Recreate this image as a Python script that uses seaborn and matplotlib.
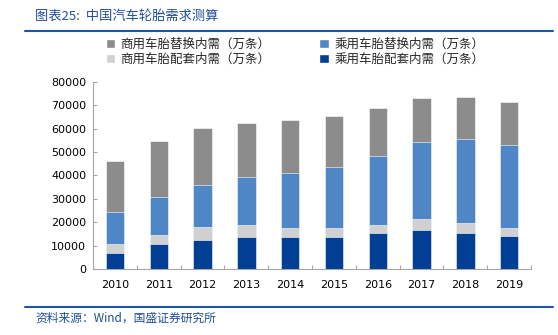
import matplotlib
matplotlib.use("Agg")
import matplotlib.pyplot as plt
import seaborn as sns
import pandas as pd
import numpy as np
from matplotlib.patches import Patch
from matplotlib.lines import Line2D

years = ["2010", "2011", "2012", "2013", "2014", "2015", "2016", "2017", "2018", "2019"]
pc_oe = [7000, 10800, 12400, 13800, 13500, 13800, 15300, 16500, 15400, 14100]      # 乘用车胎配套
cv_oe = [3600, 3700, 5400, 4900, 4100, 3700, 3500, 4700, 4400, 3500]               # 商用车胎配套
pc_rep = [13800, 16100, 18200, 20700, 23600, 26100, 29500, 32900, 35600, 35500]    # 乘用车胎替换
cv_rep = [21900, 24200, 24300, 23100, 22300, 21800, 20600, 19000, 18000, 18100]    # 商用车胎替换

names = ["乘用车胎配套内需（万条）", "商用车胎配套内需（万条）",
         "乘用车胎替换内需（万条）", "商用车胎替换内需（万条）"]
colors = ["#003F94", "#D0D0D0", "#4F86C6", "#8C8C8C"]
series = [pc_oe, cv_oe, pc_rep, cv_rep]

sns.set_theme(style="white")
plt.rcParams['font.family'] = ['Noto Sans CJK SC', 'DejaVu Sans']

fig = plt.figure(figsize=(5.58, 3.35), dpi=100)
ax = fig.add_axes([0.1667, 0.197, 0.785, 0.559])

cum = np.cumsum(np.array(series), axis=0)
df = pd.DataFrame({"year": years})
for i in range(len(series) - 1, -1, -1):
    df["v"] = cum[i]
    sns.barplot(data=df, x="year", y="v", color=colors[i], width=0.42,
                saturation=1, edgecolor="white", linewidth=0.4, ax=ax, zorder=2)

ax.set_ylim(0, 80000)
ax.set_xlim(-0.5, len(years) - 0.5)
ax.set_yticks(range(0, 80001, 10000))
ax.set_xlabel("")
ax.set_ylabel("")
for s in ["top", "right"]:
    ax.spines[s].set_visible(False)
for s in ["left", "bottom"]:
    ax.spines[s].set_color("#A6A6A6")
    ax.spines[s].set_linewidth(0.8)
ax.tick_params(axis="y", direction="in", length=3, color="#A6A6A6", width=0.8,
               labelsize=8, pad=5, left=True)
ax.tick_params(axis="x", length=0, labelsize=8, pad=8)
for lab in ax.get_xticklabels() + ax.get_yticklabels():
    lab.set_family("DejaVu Sans")
    lab.set_color("#000000")
# category boundary ticks on x axis
ax.set_xticks(np.arange(0.5, len(years) - 0.5 + 1, 1), minor=True)
ax.tick_params(axis="x", which="minor", direction="in", length=3, color="#A6A6A6",
               width=0.8, bottom=True)

handles = [Patch(facecolor=colors[3]), Patch(facecolor=colors[1]),
           Patch(facecolor=colors[2]), Patch(facecolor=colors[0])]
labels = [names[3], names[1], names[2], names[0]]
fig.legend(handles, labels, ncol=2, loc="upper left", bbox_to_anchor=(0.178, 0.905),
           frameon=False, fontsize=9, handlelength=0.75, handleheight=0.75,
           handletextpad=0.45, columnspacing=3.9, labelspacing=0.15, borderpad=0)

fig.text(0.063, 0.952, "图表25:  中国汽车轮胎需求测算", fontsize=9.5, style="italic",
         color="#1F4E9A", va="center", ha="left")
fig.text(0.063, 0.05, "资料来源：Wind，国盛证券研究所", fontsize=8.5, style="italic",
         color="#1F4E9A", va="center", ha="left")
fig.add_artist(Line2D([0.044, 0.991], [1 - 31 / 335] * 2, color="#1F55A5", lw=1.5,
                      transform=fig.transFigure))
fig.add_artist(Line2D([0.044, 0.991], [1 - 306.5 / 335] * 2, color="#1F55A5", lw=1.5,
                      transform=fig.transFigure))

fig.savefig("out.png", dpi=100)
